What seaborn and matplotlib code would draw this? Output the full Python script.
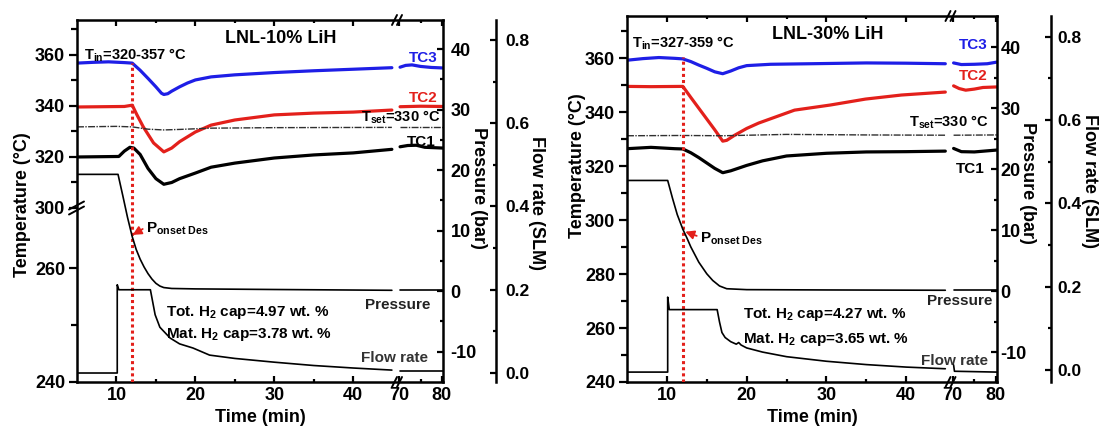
import numpy as np
import matplotlib
matplotlib.use("Agg")
import matplotlib.pyplot as plt
import seaborn as sns

nan = np.nan

# ------------------------------------------------------------------ data
PANEL_TITLES = ["LNL-10% LiH", "LNL-30% LiH"]
TIN_RANGES = ["320-357", "327-359"]
TOT_CAPS = ["4.97", "4.27"]
MAT_CAPS = ["3.78", "3.65"]
T_SET = 330
ONSET_TIME = 12.0
ONSET_TOPS = [357.0, 360.5]

X_MAJOR = [10, 20, 30, 40, 70, 80]
X_MINOR = [15, 25, 35, 75]
L_T_MAJOR = [240, 260, 300, 320, 340, 360]
L_T_MINOR = [250, 310, 330, 350, 370]
R_T_MAJOR = [240, 260, 280, 300, 320, 340, 360]
R_T_MINOR = [250, 270, 290, 310, 330, 350, 370]
P_MAJOR = [-10, 0, 10, 20, 30, 40]
P_MINOR = [-5, 5, 15, 25, 35]
F_MAJOR = [0.0, 0.2, 0.4, 0.6, 0.8]
F_MINOR = [0.1, 0.3, 0.5, 0.7]

# left panel (LNL-10% LiH); nan separates the two sides of the time-axis break
L_TC3_T = [5, 7, 9, 11, 12, 13, 14, 15, 15.7, 16, 16.5, 17, 18, 19, 20, 22, 25, 30, 35, 40, 44.9,
           nan, 70.2, 71.5, 73, 75, 77.5, 80.2]
L_TC3 = [356.8, 357.1, 357.3, 357.0, 356.8, 354.0, 350.8, 347.5, 345.0, 344.5, 344.8, 345.8, 347.5,
         349.0, 350.2, 351.4, 352.2, 353.1, 353.8, 354.4, 355.0,
         nan, 355.2, 355.9, 356.1, 355.5, 355.1, 354.9]
L_TC2_T = [5, 8, 11, 12, 12.6, 13.4, 14.7, 16, 17, 18, 20, 22, 25, 30, 35, 40, 44.9,
           nan, 70.2, 75, 80.2]
L_TC2 = [339.6, 339.7, 339.8, 340.3, 336.5, 331.8, 325.5, 322.0, 323.5, 326.0, 329.8, 332.5, 334.5,
         336.5, 337.2, 337.6, 338.4, nan, 339.7, 339.9, 339.8]
L_TSET_T = [5, 10, 12, 14, 16, 18, 22, 30, 44.9, nan, 70.2, 80.2]
L_TSET = [331.8, 332.0, 331.8, 330.9, 330.6, 330.8, 331.3, 331.5, 331.6, nan, 331.8, 331.8]
L_TC1_T = [5, 10.3, 11, 11.7, 12.2, 13, 14, 15, 16, 17, 18, 20, 22, 25, 30, 35, 40, 44.9,
           nan, 70.2, 72, 74, 76, 80.2]
L_TC1 = [320.0, 320.2, 322.3, 323.8, 323.5, 321.0, 315.5, 311.5, 309.3, 310.0, 311.5, 313.7, 316.0,
         317.6, 319.6, 320.8, 321.6, 323.0, nan, 324.0, 324.5, 324.6, 323.8, 323.5]
L_P_T = [5, 10.2, 10.8, 11.4, 12, 12.5, 13, 13.5, 14, 14.5, 15, 15.5, 16, 17, 20, 30, 44.9,
         nan, 70.2, 80.2]
L_P = [19.3, 19.3, 15.8, 12.2, 9.0, 6.9, 5.3, 4.0, 2.9, 2.0, 1.3, 0.85, 0.6, 0.45, 0.38, 0.28, 0.15,
       nan, 0.15, 0.15]
L_F_T = [5, 10.1, 10.1, 10.3, 14.3, 14.6, 14.9, 15.5, 16.8, 18, 19.7, 21.8, 25, 30, 35, 40, 44.9,
         nan, 70.2, 80.2]
L_F = [0.0, 0.0, 0.212, 0.2, 0.2, 0.17, 0.14, 0.11, 0.084, 0.07, 0.06, 0.043, 0.035, 0.026, 0.018,
       0.012, 0.007, nan, 0.005, 0.005]

# right panel (LNL-30% LiH)
R_TC3_T = [5, 7, 9, 11, 12, 13, 14, 15, 16, 17, 18, 19, 20, 23, 28, 35, 40, 44.9,
           nan, 70.2, 72, 75, 78, 80.2]
R_TC3 = [359.3, 359.9, 360.3, 360.0, 359.8, 358.8, 357.5, 356.3, 355.0, 354.3, 355.3, 356.5, 357.3,
         357.8, 358.0, 358.3, 358.2, 358.0, nan, 358.3, 357.7, 357.8, 358.0, 358.6]
R_TC2_T = [5, 8, 12, 13, 14, 15, 16, 17, 17.5, 18.5, 20, 21.5, 26, 30.5, 34.9, 39.4, 44.9,
           nan, 70.2, 71.5, 73, 75, 77, 80.2]
R_TC2 = [349.6, 349.5, 349.6, 345.5, 341.5, 337.5, 333.5, 329.3, 329.6, 331.5, 334.0, 336.0, 340.8,
         342.7, 344.9, 346.4, 347.5, nan, 349.8, 348.8, 348.2, 348.6, 349.2, 349.4]
R_TSET_T = [5, 12, 17, 25, 35, 44.9, nan, 70.2, 80.2]
R_TSET = [331.3, 331.4, 331.3, 331.8, 331.6, 331.5, nan, 331.5, 331.6]
R_TC1_T = [5, 8, 11, 12, 13, 14, 15, 16, 17, 18, 20, 22, 25, 30, 35, 40, 44.9,
           nan, 70.2, 72, 75, 80.2]
R_TC1 = [326.5, 327.0, 326.5, 326.4, 325.0, 323.2, 321.2, 319.2, 317.6, 318.3, 320.3, 322.0, 323.8,
         324.8, 325.3, 325.4, 325.6, nan, 326.6, 325.4, 325.3, 326.0]
R_P_T = [5, 10.1, 10.7, 11.3, 12, 12.5, 13, 14, 15, 15.75, 16.6, 17.5, 20, 30, 44.9,
         nan, 70.2, 80.2]
R_P = [18.2, 18.2, 15.3, 12.6, 10.2, 8.8, 7.3, 4.8, 2.9, 1.8, 0.9, 0.45, 0.3, 0.25, 0.2,
       nan, 0.2, 0.2]
R_F_T = [5, 10.1, 10.1, 10.3, 16.3, 16.6, 16.9, 17.3, 18, 18.7, 19, 19.3, 20, 22, 25, 30, 35, 40, 44.9,
         nan, 70.2, 70.4, 80.2]
R_F = [-0.005, -0.005, 0.175, 0.145, 0.145, 0.115, 0.09, 0.078, 0.068, 0.062, 0.066, 0.06, 0.053,
       0.043, 0.032, 0.021, 0.013, 0.007, 0.003, nan, 0.012, -0.003, -0.005]

# ------------------------------------------------------------------ style
BLUE = "#1e1ee6"
RED = "#e3201b"
sns.set_style("ticks")
plt.rcParams.update({
    "font.family": ["Liberation Sans", "DejaVu Sans"],
    "font.weight": "bold",
    "axes.labelweight": "bold",
    "axes.unicode_minus": False,
    "mathtext.fontset": "custom",
    "mathtext.rm": "Liberation Sans:bold",
    "mathtext.bf": "Liberation Sans:bold",
    "mathtext.it": "Liberation Sans:bold",
    "mathtext.sf": "Liberation Sans:bold",
    "axes.edgecolor": "black",
    "axes.linewidth": 1.8,
    "text.color": "black",
    "axes.labelcolor": "black",
    "xtick.color": "black",
    "ytick.color": "black",
})


def piecewise(xk, yk):
    xk = np.asarray(xk, float)
    yk = np.asarray(yk, float)
    s0 = (yk[1] - yk[0]) / (xk[1] - xk[0])
    s1 = (yk[-1] - yk[-2]) / (xk[-1] - xk[-2])

    def f(v):
        v = np.asarray(v, float)
        out = np.interp(v, xk, yk)
        out = np.where(v < xk[0], yk[0] + (v - xk[0]) * s0, out)
        out = np.where(v > xk[-1], yk[-1] + (v - xk[-1]) * s1, out)
        return out
    return f


X_LIM = (5, 80.25)
X_KNOTS = ([5, 45.55, 69.6, 80.25], [0, 320, 320.5, 366])
FX = piecewise(*X_KNOTS)
FXi = piecewise(X_KNOTS[1], X_KNOTS[0])
LT_KNOTS = ([240, 270.5, 300, 373.7], [0, 173.5, 174, 362])
FT = piecewise(*LT_KNOTS)
FTi = piecewise(LT_KNOTS[1], LT_KNOTS[0])


def draw(ax, t, v, **kw):
    t = np.asarray(t, float)
    v = np.asarray(v, float)
    cuts = np.where(np.isnan(t))[0]
    for idx in np.split(np.arange(len(t)), cuts):
        idx = idx[~np.isnan(t[idx])]
        sns.lineplot(x=t[idx], y=v[idx], ax=ax, estimator=None, sort=False,
                     legend=False, **kw)


def fmt(dec):
    return matplotlib.ticker.FuncFormatter(lambda v, p: f"{v:.{dec}f}")


fig = plt.figure(figsize=(11.02, 4.30), dpi=100)

PANELS = [
    dict(rect=[77 / 1102, 48 / 430, 366 / 1102, 362 / 430], wpx=366, hpx=362, flow_out=38.2,
         tscale=True, tlim=(240, 373.7), tmaj=L_T_MAJOR, tmin=L_T_MINOR,
         plim=(-15.0, 44.8), flim=(-0.0216, 0.848), ppad=5.5, fpad=7,
         tc3=(L_TC3_T, L_TC3), tc2=(L_TC2_T, L_TC2), tset=(L_TSET_T, L_TSET),
         tc1=(L_TC1_T, L_TC1), p=(L_P_T, L_P), f=(L_F_T, L_F),
         tlab=(-0.150, 0.489), plab=(1.12, 0.536), flab=(1.278, 0.494), xlab=(0.5, -0.0994),
         title=(0.5574, 0.9351), tin=(0.0191, 0.8895), tc3t=(0.9863, 0.8826), tc2t=(0.9863, 0.7721),
         tsett=(0.9918, 0.7182), tc1t=(0.9809, 0.6506), prest=(0.9645, 0.2030),
         flowt=(0.959, 0.0539), tot=(0.2432, 0.1837), mat=(0.2432, 0.1202),
         onset_xy=(12.05, 9.3), onset_txt=(0.1885, 0.413)),
    dict(rect=[627 / 1102, 48 / 430, 370 / 1102, 366 / 430], wpx=370, hpx=366, flow_out=38.9,
         tscale=False, tlim=(240, 375.7), tmaj=R_T_MAJOR, tmin=R_T_MINOR,
         plim=(-14.84, 45.16), flim=(-0.0288, 0.850), ppad=2.5, fpad=4.5,
         tc3=(R_TC3_T, R_TC3), tc2=(R_TC2_T, R_TC2), tset=(R_TSET_T, R_TSET),
         tc1=(R_TC1_T, R_TC1), p=(R_P_T, R_P), f=(R_F_T, R_F),
         tlab=(-0.135, 0.59), plab=(1.106, 0.544), flab=(1.272, 0.548), xlab=(0.5, -0.098),
         title=(0.5432, 0.9358), tin=(0.0135, 0.9126), tc3t=(0.9757, 0.9085), tc2t=(0.9757, 0.8238),
         tsett=(0.9757, 0.6967), tc1t=(0.9676, 0.5724), prest=(0.9865, 0.2117),
         flowt=(0.9757, 0.0478), tot=(0.3135, 0.1735), mat=(0.3135, 0.1079),
         onset_xy=(12.3, 9.8), onset_txt=(0.1973, 0.3811)),
]

for i, P in enumerate(PANELS):
    ax = fig.add_axes(P["rect"])
    ax.set_xscale("function", functions=(FX, FXi))
    if P["tscale"]:
        ax.set_yscale("function", functions=(FT, FTi))
    axp = ax.twinx()
    axf = ax.twinx()
    for a in (axp, axf):
        a.set_xscale("function", functions=(FX, FXi))

    # temperature traces
    draw(ax, *P["tc3"], color=BLUE, lw=2.3)
    draw(ax, *P["tc2"], color=RED, lw=2.3)
    draw(ax, *P["tset"], color="#303030", lw=1.0, linestyle=(0, (5, 1, 1, 1)))
    draw(ax, *P["tc1"], color="black", lw=2.3)
    ax.vlines(ONSET_TIME, P["tlim"][0], ONSET_TOPS[i], colors=RED, lw=2.2,
              linestyles=(0, (1.0, 1.0)), zorder=5)
    # pressure / flow
    draw(axp, *P["p"], color="black", lw=1.2)
    draw(axf, *P["f"], color="black", lw=1.2)

    ax.set_xlim(*X_LIM)
    ax.set_ylim(*P["tlim"])
    axp.set_ylim(*P["plim"])
    axf.set_ylim(*P["flim"])

    # spines
    for a in (axp, axf):
        for s in ("left", "top", "bottom", "right"):
            a.spines[s].set_visible(False)
    axf.spines["right"].set_visible(True)
    axf.spines["right"].set_position(("outward", P["flow_out"]))
    axf.spines["right"].set_linewidth(1.8)
    for s in ax.spines.values():
        s.set_linewidth(1.8)

    # ticks
    ax.xaxis.set_major_locator(matplotlib.ticker.FixedLocator(X_MAJOR))
    ax.xaxis.set_minor_locator(matplotlib.ticker.FixedLocator(X_MINOR))
    ax.xaxis.set_major_formatter(fmt(0))
    ax.xaxis.set_minor_formatter(matplotlib.ticker.NullFormatter())
    ax.tick_params(axis="x", which="both", direction="in", top=True, bottom=True,
                   labelbottom=True, labeltop=False, width=1.6, labelsize=13, pad=3.5)
    ax.tick_params(axis="x", which="major", length=4.5)
    ax.tick_params(axis="x", which="minor", length=2.5)

    ax.yaxis.set_major_locator(matplotlib.ticker.FixedLocator(P["tmaj"]))
    ax.yaxis.set_minor_locator(matplotlib.ticker.FixedLocator(P["tmin"]))
    ax.yaxis.set_major_formatter(fmt(0))
    ax.yaxis.set_minor_formatter(matplotlib.ticker.NullFormatter())
    ax.tick_params(axis="y", which="both", direction="out", left=True, right=False,
                   labelright=False, width=1.6, labelsize=13, pad=2.5)
    ax.tick_params(axis="y", which="major", length=6)
    ax.tick_params(axis="y", which="minor", length=4)

    axp.yaxis.set_major_locator(matplotlib.ticker.FixedLocator(P_MAJOR))
    axp.yaxis.set_minor_locator(matplotlib.ticker.FixedLocator(P_MINOR))
    axp.yaxis.set_major_formatter(fmt(0))
    axp.yaxis.set_minor_formatter(matplotlib.ticker.NullFormatter())
    axp.tick_params(axis="y", which="both", direction="in", right=True, left=False,
                    labelright=True, labelleft=False, width=1.6, labelsize=13, pad=P["ppad"])
    axp.tick_params(axis="y", which="major", length=4)
    axp.tick_params(axis="y", which="minor", length=2.5)

    axf.yaxis.set_major_locator(matplotlib.ticker.FixedLocator(F_MAJOR))
    axf.yaxis.set_minor_locator(matplotlib.ticker.FixedLocator(F_MINOR))
    axf.yaxis.set_major_formatter(fmt(1))
    axf.yaxis.set_minor_formatter(matplotlib.ticker.NullFormatter())
    axf.tick_params(axis="y", which="both", direction="in", right=True, left=False,
                    labelright=True, labelleft=False, width=1.6, labelsize=12.5, pad=P["fpad"])
    axf.tick_params(axis="y", which="major", length=4)
    axf.tick_params(axis="y", which="minor", length=2.5)

    # axis labels
    ax.set_xlabel("Time (min)", fontsize=13, fontweight="bold", va="center")
    ax.xaxis.set_label_coords(*P["xlab"])
    ax.set_ylabel("Temperature (°C)", fontsize=13, fontweight="bold", ha="center", va="center")
    ax.yaxis.set_label_coords(*P["tlab"])
    axp.set_ylabel("Pressure (bar)", fontsize=13, fontweight="bold", rotation=270,
                   ha="center", va="center")
    axp.yaxis.set_label_position("right")
    axp.yaxis.set_label_coords(*P["plab"])
    axf.set_ylabel("Flow rate (SLM)", fontsize=13, fontweight="bold", rotation=270,
                   ha="center", va="center")
    axf.yaxis.set_label_position("right")
    axf.yaxis.set_label_coords(*P["flab"])

    # break marks
    w, h = P["wpx"], P["hpx"]
    fx = float(FX(45.55) / FX(X_LIM[1]))
    for yb in (0.0, 1.0):
        for off in (-2.5, 2.5):
            ax.plot([fx + (off - 2.5) / w, fx + (off + 2.5) / w], [yb - 5 / h, yb + 5 / h],
                    transform=ax.transAxes, color="black", lw=1.4, clip_on=False, zorder=6)
    if P["tscale"]:
        t0, t1 = P["tlim"]
        fy = float((FT(300) - FT(t0)) / (FT(t1) - FT(t0)))
        for off in (-2.5, 2.5):
            ax.plot([-8 / w, 7 / w], [fy + (off - 4) / h, fy + (off + 4) / h],
                    transform=ax.transAxes, color="black", lw=1.4, clip_on=False, zorder=6)

    # texts
    tr = ax.transAxes
    ax.text(*P["title"], PANEL_TITLES[i], transform=tr, fontsize=13, fontweight="bold",
            ha="center", va="baseline")
    ax.text(*P["tin"], r"T$_{\mathrm{in}}$=" + TIN_RANGES[i] + " °C", transform=tr,
            fontsize=10.5, fontweight="bold", ha="left", va="baseline")
    ax.text(*P["tc3t"], "TC3", transform=tr, fontsize=11, fontweight="bold", color=BLUE,
            ha="right", va="baseline")
    ax.text(*P["tc2t"], "TC2", transform=tr, fontsize=11, fontweight="bold", color=RED,
            ha="right", va="baseline")
    ax.text(*P["tsett"], r"T$_{\mathrm{set}}$=" + f"{T_SET} °C", transform=tr, fontsize=10.5,
            fontweight="bold", ha="right", va="baseline")
    ax.text(*P["tc1t"], "TC1", transform=tr, fontsize=11, fontweight="bold",
            ha="right", va="baseline")
    ax.text(*P["prest"], "Pressure", transform=tr, fontsize=11, fontweight="bold",
            color="#222222", ha="right", va="baseline")
    ax.text(*P["flowt"], "Flow rate", transform=tr, fontsize=11, fontweight="bold",
            color="#333333", ha="right", va="baseline")
    ax.text(*P["tot"], r"Tot. H$_2$ cap=" + TOT_CAPS[i] + " wt. %", transform=tr, fontsize=11,
            fontweight="bold", ha="left", va="baseline")
    ax.text(*P["mat"], r"Mat. H$_2$ cap=" + MAT_CAPS[i] + " wt. %", transform=tr, fontsize=11,
            fontweight="bold", ha="left", va="baseline")
    axp.annotate(r"P$_{\mathrm{onset\ Des}}$", xy=P["onset_xy"], xycoords="data",
                 xytext=P["onset_txt"], textcoords="axes fraction", fontsize=11,
                 fontweight="bold", ha="left", va="baseline",
                 arrowprops=dict(arrowstyle="-|>", color=RED, lw=1.3, mutation_scale=13,
                                 shrinkA=0, shrinkB=0, relpos=(0.0, 0.6)))

fig.savefig("out.png", dpi=100)
